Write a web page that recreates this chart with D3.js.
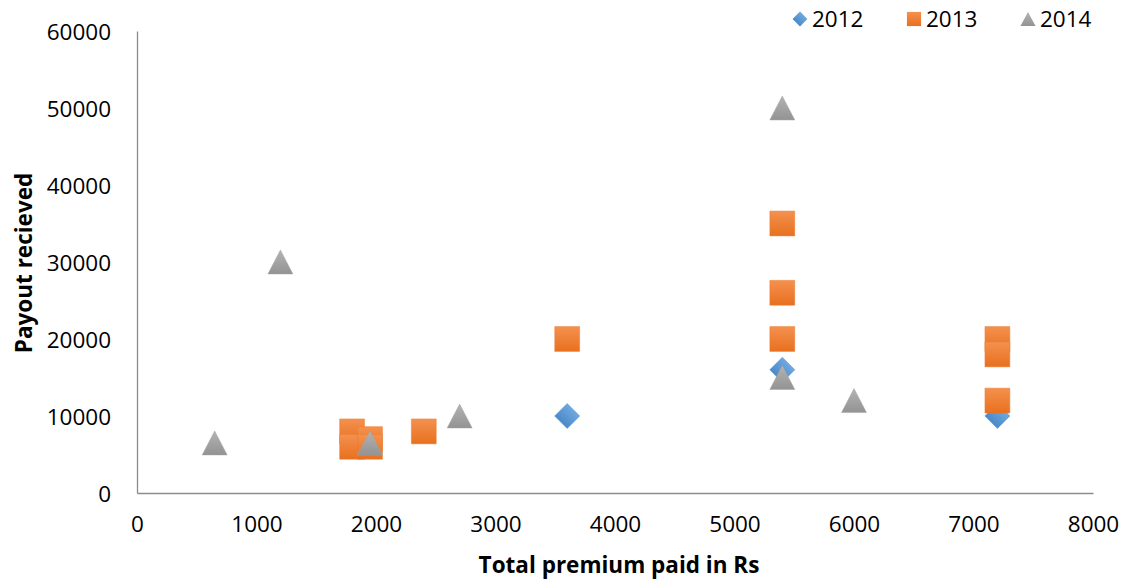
<!DOCTYPE html>
<html>
<head>
<meta charset="utf-8">
<script src="https://cdn.jsdelivr.net/npm/d3@7"></script>
<style>
  html, body { margin: 0; padding: 0; background: #fff; }
  svg { display: block; font-family: "Open Sans", "Noto Sans", sans-serif; }
</style>
</head>
<body>
<svg id="chart" width="1127" height="581"></svg>
<script>
// Series: premium paid (x) vs payout received (y)
const premium2012 = [3600, 5400, 7200];
const payout2012  = [10000, 16000, 10000];

const premium2013 = [1800, 1800, 1950, 1950, 2400, 3600, 5400, 5400, 5400, 7200, 7200, 7200];
const payout2013  = [8000, 6000, 7000, 6000, 8000, 20000, 35000, 26000, 20000, 20000, 18000, 12000];

const premium2014 = [650, 1200, 1950, 2700, 5400, 5400, 6000];
const payout2014  = [6500, 30000, 6500, 10000, 50000, 15000, 12000];

const seriesNames = ["2012", "2013", "2014"];
const xTicks = [0, 1000, 2000, 3000, 4000, 5000, 6000, 7000, 8000];
const yTicks = [0, 10000, 20000, 30000, 40000, 50000, 60000];

const svg = d3.select("#chart");
const margin = { left: 137, right: 34, top: 31, bottom: 88 };
const W = 1127, H = 581;

const x = d3.scaleLinear().domain([0, 8000]).range([margin.left, W - margin.right]);
const y = d3.scaleLinear().domain([0, 60000]).range([H - margin.bottom, margin.top]);

// Gradient fills for the markers
const defs = svg.append("defs");
function grad(id, top, bottom) {
  const g = defs.append("linearGradient").attr("id", id)
    .attr("x1", 0).attr("y1", 0).attr("x2", 0).attr("y2", 1);
  g.append("stop").attr("offset", "0%").attr("stop-color", top);
  g.append("stop").attr("offset", "100%").attr("stop-color", bottom);
}
grad("g2012", "#6FA8DE", "#4A89C8");
grad("g2013", "#F4914F", "#E8701E");
grad("g2014", "#B3B3B3", "#939393");

// Axes
const axisColor = "#8C8C8C";
const xAxis = d3.axisBottom(x).tickValues(xTicks).tickSize(0).tickPadding(23).tickFormat(d3.format("d"));
const yAxis = d3.axisLeft(y).tickValues(yTicks).tickSize(0).tickPadding(26).tickFormat(d3.format("d"));

const gx = svg.append("g").attr("transform", `translate(0,${y(0)})`).call(xAxis);
const gy = svg.append("g").attr("transform", `translate(${x(0)},0)`).call(yAxis);
[gx, gy].forEach(g => {
  g.select(".domain").attr("stroke", axisColor).attr("stroke-width", 1.3);
  g.selectAll("text").attr("fill", "#000").style("font-size", "22.5px")
    .style("font-family", "'Open Sans', sans-serif");
});
gy.selectAll("text").attr("dy", "0.36em");

// Axis titles
svg.append("text")
  .attr("x", 619).attr("y", 573)
  .attr("text-anchor", "middle")
  .style("font-weight", "bold").style("font-size", "22.5px")
  .text("Total premium paid in Rs");

svg.append("text")
  .attr("transform", `translate(32,${(y(0) + y(60000)) / 2 + 1}) rotate(-90)`)
  .attr("text-anchor", "middle")
  .style("font-weight", "bold").style("font-size", "22.5px")
  .text("Payout recieved");

// Marker shapes
const triangle = (w, h) => `M0,${-h / 2}L${w / 2},${h / 2}L${-w / 2},${h / 2}Z`;
const shapes = {
  "2012": d3.symbol().type(d3.symbolSquare).size(315)(),
  "2013": d3.symbol().type(d3.symbolSquare).size(620)(),
  "2014": triangle(25, 24)
};
const fills = { "2012": "url(#g2012)", "2013": "url(#g2013)", "2014": "url(#g2014)" };
const solid = { "2012": "#5B9BD5", "2013": "#ED7D31", "2014": "#A5A5A5" };
const rot = { "2012": 45, "2013": 0, "2014": 0 };

const series = [
  { name: "2012", xs: premium2012, ys: payout2012 },
  { name: "2013", xs: premium2013, ys: payout2013 },
  { name: "2014", xs: premium2014, ys: payout2014 }
];

series.forEach(s => {
  const pts = s.xs.map((v, i) => ({ x: v, y: s.ys[i] }));
  svg.append("g").selectAll("path").data(pts).enter().append("path")
    .attr("d", shapes[s.name])
    .attr("transform", d => `translate(${x(d.x)},${y(d.y)}) rotate(${rot[s.name]})`)
    .attr("fill", fills[s.name])
    .attr("stroke", solid[s.name]).attr("stroke-width", 0.8).attr("stroke-opacity", 0.6);
});

// Legend
const legendX = [800, 914, 1028];
const legendShapes = {
  "2012": d3.symbol().type(d3.symbolSquare).size(110)(),
  "2013": d3.symbol().type(d3.symbolSquare).size(200)(),
  "2014": triangle(15, 14)
};
const lg = svg.append("g");
seriesNames.forEach((n, i) => {
  lg.append("path")
    .attr("d", legendShapes[n])
    .attr("transform", `translate(${legendX[i]},${19}) rotate(${rot[n]})`)
    .attr("fill", fills[n]);
  lg.append("text")
    .attr("x", legendX[i] + 12).attr("y", 19).attr("dy", "0.36em")
    .style("font-size", "22.5px")
    .text(n);
});
</script>
</body>
</html>
